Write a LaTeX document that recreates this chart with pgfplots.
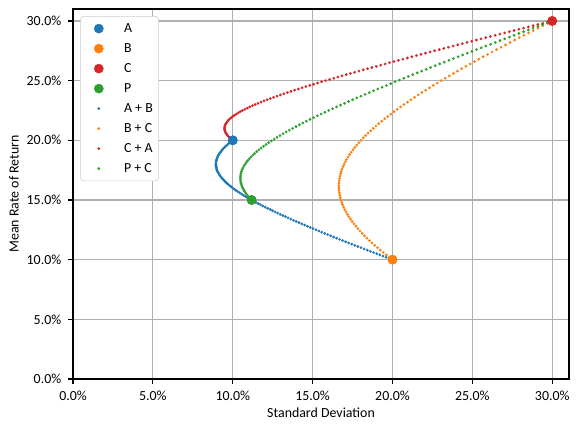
\documentclass[border=0pt]{standalone}
\usepackage{fontspec}
\setmainfont{Carlito}
\usepackage{pgfplots}
\pgfplotsset{compat=1.18}
\usetikzlibrary{calc}

\definecolor{tabblue}{HTML}{1F77B4}
\definecolor{taborange}{HTML}{FF7F0E}
\definecolor{tabred}{HTML}{D62728}
\definecolor{tabgreen}{HTML}{2CA02C}

\pgfplotsset{
  legmark/.style={legend image code/.code={\path (0pt,0pt) (27pt,0pt); \draw[##1] plot coordinates {(9pt,0pt)};}},
  bigpt/.style={only marks, mark=*, color=#1, mark size=3.3pt, line width=0.3pt, legmark},
  smallpt/.style={only marks, mark=*, color=#1, mark size=0.9pt, line width=0.2pt, legmark},
}

\begin{document}
\begin{tikzpicture}
\begin{axis}[
    name=ax,
    scale only axis,
    width=357.1pt, height=266.4pt,
    xmin=0, xmax=31.05, ymin=0, ymax=31,
    xtick={0,5,...,30}, ytick={0,5,...,30},
    /pgf/number format/assume math mode=true,
    xticklabel={\pgfmathprintnumber[fixed,fixed zerofill,precision=1]{\tick}\%},
    yticklabel={\pgfmathprintnumber[fixed,fixed zerofill,precision=1]{\tick}\%},
    font=\fontsize{10}{12}\selectfont,
    grid=major,
    grid style={color=black!31, line width=0.8pt},
    axis line style={line width=0.8pt},
    tick style={black, line width=0.8pt},
    tick align=outside, major tick length=3.5pt,
    xtick pos=bottom, ytick pos=left,
    xticklabel style={anchor=north, inner sep=0pt, yshift=-5.2pt},
    yticklabel style={anchor=east, inner sep=0pt, xshift=-4.8pt},
    xlabel={Standard Deviation},
    ylabel={Mean Rate of Return},
    xlabel style={at={(axis description cs:0.5,-0.092)}, anchor=center},
    ylabel style={at={(axis description cs:-0.119,0.5)}, anchor=center},
    legend cell align=left,
    legend style={at={(0,1)}, anchor=north west, xshift=5.2pt, yshift=-5.1pt,
      draw=black!20, rounded corners=2pt, fill=white,
      row sep=5.4pt, column sep=0pt, inner xsep=4pt, inner ysep=4.3pt,
      nodes={inner sep=0pt, text height=7pt, text depth=2pt},
      font=\fontsize{10}{12}\selectfont},
  ]
  % legend entries: the single portfolios first
  \addplot[bigpt=tabblue] coordinates {(10,20)};
  \addlegendentry{A}
  \addplot[bigpt=taborange] coordinates {(20,10)};
  \addlegendentry{B}
  \addplot[bigpt=tabred] coordinates {(30,30)};
  \addlegendentry{C}
  \addplot[bigpt=tabgreen] coordinates {(11.180,15)};
  \addlegendentry{P}

  \addplot[smallpt=tabblue] coordinates {
    (20.000,10.0) (19.601,10.2) (19.204,10.4) (18.810,10.6) (18.417,10.8) (18.028,11.0)
    (17.641,11.2) (17.257,11.4) (16.876,11.6) (16.498,11.8) (16.125,12.0) (15.754,12.2)
    (15.388,12.4) (15.027,12.6) (14.670,12.8) (14.318,13.0) (13.971,13.2) (13.631,13.4)
    (13.297,13.6) (12.969,13.8) (12.649,14.0) (12.337,14.2) (12.033,14.4) (11.739,14.6)
    (11.454,14.8) (11.180,15.0) (10.918,15.2) (10.668,15.4) (10.431,15.6) (10.208,15.8)
    (10.000,16.0) (9.808,16.2) (9.633,16.4) (9.476,16.6) (9.338,16.8) (9.220,17.0)
    (9.122,17.2) (9.044,17.4) (8.989,17.6) (8.955,17.8) (8.944,18.0) (8.955,18.2)
    (8.989,18.4) (9.044,18.6) (9.122,18.8) (9.220,19.0) (9.338,19.2) (9.476,19.4)
    (9.633,19.6) (9.808,19.8) (10.000,20.0)
    (19.800,10.1) (19.402,10.3) (19.007,10.5) (18.613,10.7) (18.222,10.9) (17.834,11.1)
    (17.449,11.3) (17.066,11.5) (16.687,11.7) (16.311,11.9) (15.939,12.1) (15.571,12.3)
    (15.207,12.5) (14.848,12.7) (14.493,12.9) (14.144,13.1) (13.800,13.3) (13.463,13.5)
    (13.132,13.7) (12.808,13.9) (12.492,14.1) (12.184,14.3) (11.885,14.5) (11.595,14.7)
    (11.316,14.9) (11.048,15.1) (10.791,15.3) (10.547,15.5) (10.318,15.7) (10.102,15.9)
    (9.902,16.1) (9.718,16.3) (9.553,16.5) (9.405,16.7) (9.276,16.9) (9.168,17.1)
    (9.080,17.3) (9.014,17.5) (8.969,17.7) (8.947,17.9) (8.947,18.1) (8.969,18.3)
    (9.014,18.5) (9.080,18.7) (9.168,18.9) (9.276,19.1) (9.405,19.3) (9.553,19.5)
    (9.718,19.7) (9.902,19.9)
  };
  \addlegendentry{A + B}
  \addplot[smallpt=taborange] coordinates {
    (30.000,30.0) (29.403,29.6) (28.811,29.2) (28.226,28.8) (27.646,28.4) (27.074,28.0)
    (26.509,27.6) (25.952,27.2) (25.402,26.8) (24.862,26.4) (24.331,26.0) (23.810,25.6)
    (23.300,25.2) (22.801,24.8) (22.314,24.4) (21.840,24.0) (21.380,23.6) (20.935,23.2)
    (20.506,22.8) (20.093,22.4) (19.698,22.0) (19.322,21.6) (18.965,21.2) (18.630,20.8)
    (18.317,20.4) (18.028,20.0) (17.763,19.6) (17.524,19.2) (17.311,18.8) (17.127,18.4)
    (16.971,18.0) (16.844,17.6) (16.748,17.2) (16.682,16.8) (16.647,16.4) (16.643,16.0)
    (16.671,15.6) (16.730,15.2) (16.819,14.8) (16.939,14.4) (17.088,14.0) (17.266,13.6)
    (17.472,13.2) (17.705,12.8) (17.964,12.4) (18.248,12.0) (18.556,11.6) (18.886,11.2)
    (19.237,10.8) (19.609,10.4) (20.000,10.0)
    (29.701,29.8) (29.106,29.4) (28.518,29.0) (27.935,28.6) (27.359,28.2) (26.791,27.8)
    (26.229,27.4) (25.676,27.0) (25.131,26.6) (24.595,26.2) (24.069,25.8) (23.554,25.4)
    (23.049,25.0) (22.556,24.6) (22.075,24.2) (21.609,23.8) (21.156,23.4) (20.718,23.0)
    (20.297,22.6) (19.893,22.2) (19.507,21.8) (19.141,21.4) (18.795,21.0) (18.471,20.6)
    (18.170,20.2) (17.892,19.8) (17.640,19.4) (17.414,19.0) (17.215,18.6) (17.045,18.2)
    (16.904,17.8) (16.792,17.4) (16.711,17.0) (16.660,16.6) (16.641,16.2) (16.653,15.8)
    (16.696,15.4) (16.771,15.0) (16.875,14.6) (17.010,14.2) (17.174,13.8) (17.366,13.4)
    (17.585,13.0) (17.832,12.6) (18.103,12.2) (18.399,11.8) (18.718,11.4) (19.059,11.0)
    (19.421,10.6) (19.802,10.2)
  };
  \addlegendentry{B + C}
  \addplot[smallpt=tabred] coordinates {
    (10.000,20.0) (9.818,20.2) (9.675,20.4) (9.571,20.6) (9.508,20.8) (9.487,21.0)
    (9.508,21.2) (9.571,21.4) (9.675,21.6) (9.818,21.8) (10.000,22.0) (10.218,22.2)
    (10.469,22.4) (10.752,22.6) (11.064,22.8) (11.402,23.0) (11.764,23.2) (12.149,23.4)
    (12.554,23.6) (12.977,23.8) (13.416,24.0) (13.871,24.2) (14.339,24.4) (14.819,24.6)
    (15.310,24.8) (15.811,25.0) (16.322,25.2) (16.840,25.4) (17.367,25.6) (17.900,25.8)
    (18.439,26.0) (18.984,26.2) (19.535,26.4) (20.090,26.6) (20.649,26.8) (21.213,27.0)
    (21.781,27.2) (22.352,27.4) (22.926,27.6) (23.503,27.8) (24.083,28.0) (24.666,28.2)
    (25.251,28.4) (25.838,28.6) (26.427,28.8) (27.019,29.0) (27.612,29.2) (28.206,29.4)
    (28.803,29.6) (29.401,29.8) (30.000,30.0)
    (9.905,20.1) (9.742,20.3) (9.618,20.5) (9.534,20.7) (9.492,20.9) (9.492,21.1)
    (9.534,21.3) (9.618,21.5) (9.742,21.7) (9.905,21.9) (10.104,22.1) (10.339,22.3)
    (10.607,22.5) (10.904,22.7) (11.229,22.9) (11.580,23.1) (11.954,23.3) (12.349,23.5)
    (12.763,23.7) (13.195,23.9) (13.642,24.1) (14.103,24.3) (14.577,24.5) (15.063,24.7)
    (15.560,24.9) (16.066,25.1) (16.580,25.3) (17.103,25.5) (17.632,25.7) (18.169,25.9)
    (18.711,26.1) (19.259,26.3) (19.812,26.5) (20.369,26.7) (20.931,26.9) (21.497,27.1)
    (22.066,27.3) (22.638,27.5) (23.214,27.7) (23.793,27.9) (24.374,28.1) (24.958,28.3)
    (25.544,28.5) (26.132,28.7) (26.723,28.9) (27.315,29.1) (27.909,29.3) (28.504,29.5)
    (29.102,29.7) (29.700,29.9)
  };
  \addlegendentry{C + A}
  \addplot[smallpt=tabgreen] coordinates {
    (11.180,15.0) (10.973,15.3) (10.800,15.6) (10.662,15.9) (10.562,16.2) (10.500,16.5)
    (10.477,16.8) (10.492,17.1) (10.547,17.4) (10.640,17.7) (10.770,18.0) (10.937,18.3)
    (11.137,18.6) (11.370,18.9) (11.634,19.2) (11.927,19.5) (12.246,19.8) (12.589,20.1)
    (12.955,20.4) (13.342,20.7) (13.748,21.0) (14.171,21.3) (14.610,21.6) (15.063,21.9)
    (15.529,22.2) (16.008,22.5) (16.497,22.8) (16.997,23.1) (17.505,23.4) (18.022,23.7)
    (18.547,24.0) (19.079,24.3) (19.617,24.6) (20.161,24.9) (20.711,25.2) (21.266,25.5)
    (21.826,25.8) (22.390,26.1) (22.957,26.4) (23.529,26.7) (24.104,27.0) (24.682,27.3)
    (25.263,27.6) (25.847,27.9) (26.434,28.2) (27.023,28.5) (27.614,28.8) (28.208,29.1)
    (28.803,29.4) (29.401,29.7) (30.000,30.0)
    (11.073,15.15) (10.882,15.45) (10.727,15.75) (10.608,16.05) (10.526,16.35) (10.483,16.65)
    (10.480,16.95) (10.515,17.25) (10.589,17.55) (10.701,17.85) (10.849,18.15) (11.033,18.45)
    (11.250,18.75) (11.499,19.05) (11.777,19.35) (12.083,19.65) (12.415,19.95) (12.770,20.25)
    (13.146,20.55) (13.543,20.85) (13.957,21.15) (14.388,21.45) (14.834,21.75) (15.295,22.05)
    (15.767,22.35) (16.251,22.65) (16.746,22.95) (17.250,23.25) (17.763,23.55) (18.284,23.85)
    (18.812,24.15) (19.347,24.45) (19.889,24.75) (20.436,25.05) (20.988,25.35) (21.545,25.65)
    (22.107,25.95) (22.673,26.25) (23.243,26.55) (23.816,26.85) (24.393,27.15) (24.972,27.45)
    (25.555,27.75) (26.140,28.05) (26.728,28.35) (27.319,28.65) (27.911,28.95) (28.505,29.25)
    (29.102,29.55) (29.700,29.85)
  };
  \addlegendentry{P + C}

  % the single portfolios again, on top of the curves
  \addplot[bigpt=tabblue, forget plot] coordinates {(10,20)};
  \addplot[bigpt=taborange, forget plot] coordinates {(20,10)};
  \addplot[bigpt=tabred, forget plot] coordinates {(30,30)};
  \addplot[bigpt=tabgreen, forget plot] coordinates {(11.180,15)};
\end{axis}
\path ($(ax.south west)+(-52.6pt,-36.7pt)$) rectangle ($(ax.north east)+(7.2pt,6.5pt)$);
\end{tikzpicture}
\end{document}
